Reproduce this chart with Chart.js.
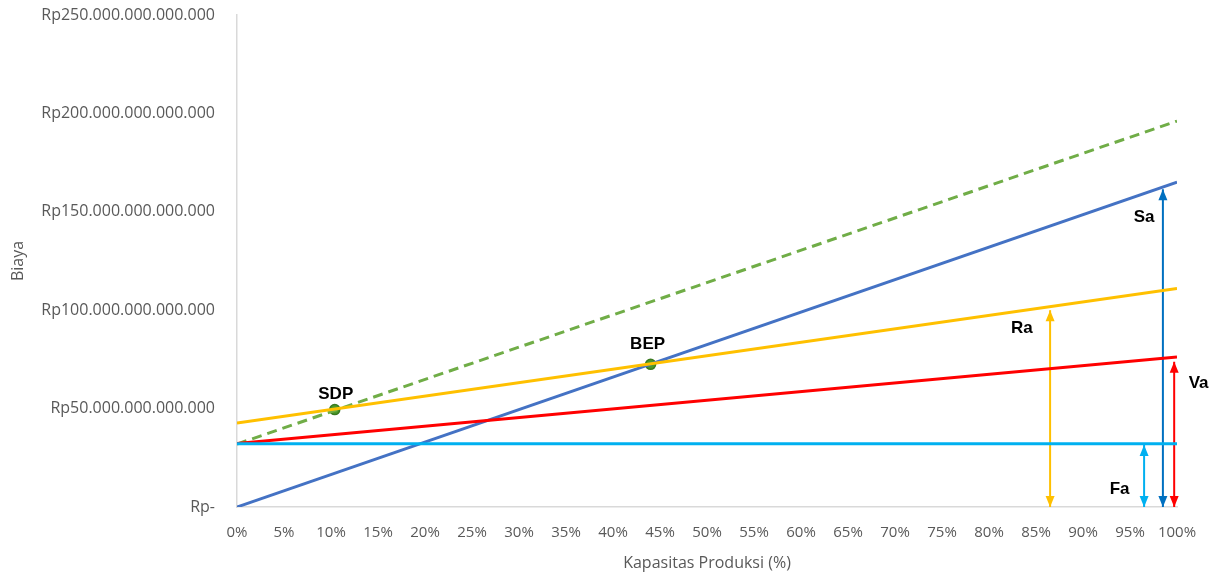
<!DOCTYPE html>
<html>
<head>
<meta charset="utf-8">
<script src="https://cdn.jsdelivr.net/npm/chart.js@4"></script>
<style>
html,body{margin:0;padding:0;background:#fff;}
#wrap{width:1225px;height:582px;position:relative;}
</style>
</head>
<body>
<div id="wrap"><canvas id="c" width="1225" height="582"></canvas></div>
<script>
// values in trillions of rupiah
const capacity = [0, 100];
const salesSa = [0, 165.1];
const totalCost = [32.0, 196.1];
const revenueRa = [42.7, 111.0];
const variableVa = [32.2, 76.2];
const fixedFa = [32.2, 32.2];

const pointNames = ['SDP', 'BEP'];
const pointX = [10.4, 44.0];
const pointY = [49.5, 72.5];

const arrowNames = ['Ra', 'Fa', 'Sa', 'Va'];
const arrowX = [86.5, 96.5, 98.5, 99.7];
const arrowTop = [100.0, 31.5, 161.5, 73.8];
const arrowLabelX = [83.5, 93.9, 96.5, 102.3];
const arrowLabelY = [90.8, 9.0, 147.2, 62.9];

const yTicks = [0, 50, 100, 150, 200, 250];

function pts(xs, ys){ return xs.map((x,i)=>({x:x, y:ys[i]})); }

const arrowColors = ['#FFC000', '#00B0F0', '#0070C0', '#FF0000'];

const datasets = [
  {label:'Fa', data: pts(capacity, fixedFa), borderColor:'#00B0F0', borderWidth:3, pointRadius:0},
  {label:'Va', data: pts(capacity, variableVa), borderColor:'#FF0000', borderWidth:3, pointRadius:0},
  {label:'Ra', data: pts(capacity, revenueRa), borderColor:'#FFC000', borderWidth:3, pointRadius:0},
  {label:'Sa', data: pts(capacity, salesSa), borderColor:'#4472C4', borderWidth:3, pointRadius:0},
  {label:'Total', data: pts(capacity, totalCost), borderColor:'#70AD47', borderWidth:3, borderDash:[10,6], pointRadius:0},
];
arrowNames.forEach((n,i)=>{
  datasets.push({label:'arrow'+n, isArrow:true, data: pts([arrowX[i], arrowX[i]], [0, arrowTop[i]]),
    borderColor: arrowColors[i], borderWidth:2, pointRadius:0});
});
datasets.push({label:'points', data: pts(pointX, pointY), showLine:false,
  pointRadius:5, pointBackgroundColor:'#4C9A2A', pointBorderColor:'#3A7A20', pointBorderWidth:1.5});

const annotPlugin = {
  id:'annot',
  afterDatasetsDraw(chart){
    const ctx = chart.ctx, xs = chart.scales.x, ys = chart.scales.y;
    ctx.save();
    chart.data.datasets.forEach(ds=>{
      if(!ds.isArrow) return;
      const px = xs.getPixelForValue(ds.data[0].x);
      const yb = ys.getPixelForValue(ds.data[0].y);
      const yt = ys.getPixelForValue(ds.data[1].y);
      ctx.fillStyle = ds.borderColor;
      const w = 4.5, h = 11;
      ctx.beginPath(); ctx.moveTo(px, yt); ctx.lineTo(px-w, yt+h); ctx.lineTo(px+w, yt+h); ctx.closePath(); ctx.fill();
      ctx.beginPath(); ctx.moveTo(px, yb); ctx.lineTo(px-w, yb-h); ctx.lineTo(px+w, yb-h); ctx.closePath(); ctx.fill();
    });
    ctx.fillStyle = '#000';
    ctx.font = 'bold 17px "Liberation Sans", Arial, sans-serif';
    ctx.textAlign = 'center'; ctx.textBaseline = 'middle';
    arrowNames.forEach((n,i)=>{
      ctx.fillText(n, xs.getPixelForValue(arrowLabelX[i]), ys.getPixelForValue(arrowLabelY[i]));
    });
    const ptLabelDy = [15, 20];
    pointNames.forEach((n,i)=>{
      ctx.fillText(n, xs.getPixelForValue(pointX[i]) + (i===1?-3:1), ys.getPixelForValue(pointY[i]) - ptLabelDy[i]);
    });
    ctx.restore();
  }
};

new Chart(document.getElementById('c'), {
  type:'line',
  data:{datasets},
  plugins:[annotPlugin],
  options:{
    responsive:false, animation:false,
    layout:{padding:{top:15, right:48, left:0, bottom:0}},
    plugins:{legend:{display:false}, tooltip:{enabled:false}},
    scales:{
      x:{type:'linear', min:0, max:100,
        ticks:{stepSize:5, color:'#595959', font:{family:'"Open Sans"', size:15}, padding:17, maxRotation:0,
          callback:v=>v+'%'},
        grid:{display:false, drawTicks:false},
        border:{color:'#D9D9D9', width:1.5},
        title:{display:true, text:'Kapasitas Produksi (%)', color:'#595959', font:{family:'"Open Sans"', size:16}, padding:{top:4, bottom:9}},
        afterFit(s){ s.height = 75; s.paddingLeft = 0; s.paddingRight = 0; }
      },
      y:{min:0, max:250,
        afterBuildTicks(s){ s.ticks = yTicks.map(v=>({value:v})); },
        ticks:{color:'#595959', font:{family:'"Open Sans"', size:16}, padding:22,
          callback:v=> v===0 ? 'Rp-' : 'Rp'+v+'.000.000.000.000'},
        grid:{display:false, drawTicks:false},
        border:{color:'#D9D9D9', width:1.5},
        title:{display:true, text:'Biaya', color:'#595959', font:{family:'"Open Sans"', size:16}, padding:{top:9, bottom:0}},
        afterFit(s){ s.width = 237; s.paddingTop = 0; s.paddingBottom = 0; }
      }
    }
  }
});
</script>
</body>
</html>
